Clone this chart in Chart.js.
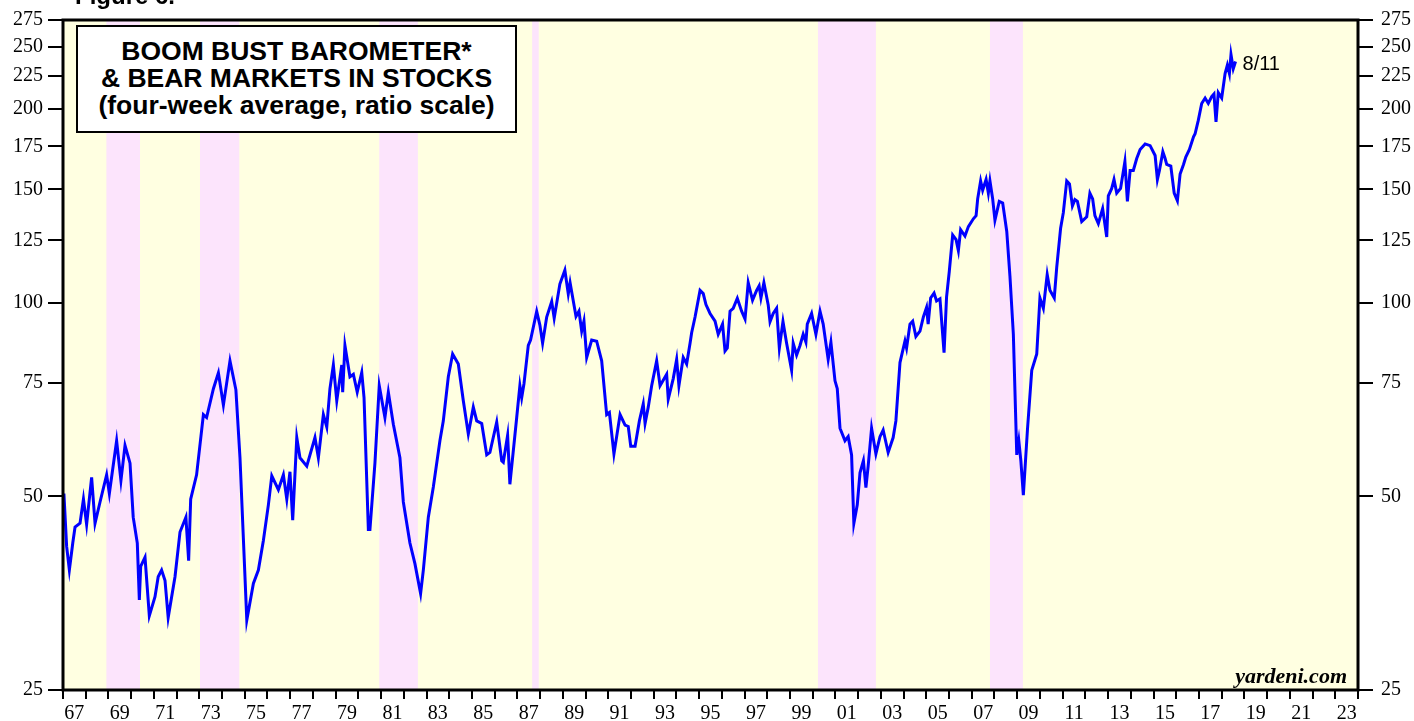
<!DOCTYPE html>
<html>
<head>
<meta charset="utf-8">
<script src="https://cdn.jsdelivr.net/npm/chart.js@4"></script>
<style>
    html, body { margin: 0; padding: 0; background: #fff; }
    #wrap { position: relative; width: 1414px; height: 721px; overflow: hidden; }
    #fig { position: absolute; left: 75px; top: -16px; font: bold 24px "Liberation Sans", Arial, sans-serif; line-height: 24px; }
    #title {
        position: absolute; left: 76px; top: 25px;
        border: 2.5px solid #000; background: #fff; text-align: center;
        font: bold 26.5px "Liberation Sans", Arial, sans-serif; line-height: 27px;
        padding-top: 11px; box-sizing: border-box; width: 441px; height: 108px;
    }
    #src { position: absolute; right: 67px; top: 665px; font: italic bold 22px "Liberation Serif", "Times New Roman", serif; line-height: 22px; }
</style>
</head>
<body>
<div id="wrap">
    <canvas id="bbChart" width="1414" height="721"></canvas>
    <div id="fig">Figure 6.</div>
    <div id="title">BOOM BUST BAROMETER*<br>&amp; BEAR MARKETS IN STOCKS<br>(four-week average, ratio scale)</div>
    <div id="src">yardeni.com</div>
</div>
<script>
// --- Data ---
const years = [
    1967.04, 1967.16, 1967.28, 1967.43, 1967.53, 1967.75, 1967.90, 1968.04, 1968.26, 1968.41,
    1968.63, 1968.92, 1969.04, 1969.36, 1969.55, 1969.73, 1969.95, 1970.09, 1970.27, 1970.36,
    1970.42, 1970.61, 1970.80, 1971.05, 1971.19, 1971.34, 1971.49, 1971.63, 1971.93, 1972.15,
    1972.41, 1972.53, 1972.62, 1972.88, 1973.18, 1973.32, 1973.62, 1973.84, 1974.06, 1974.35,
    1974.61, 1974.79, 1975.09, 1975.38, 1975.60, 1975.82, 1976.04, 1976.19, 1976.48, 1976.70,
    1976.85, 1976.99, 1977.11, 1977.29, 1977.43, 1977.73, 1978.09, 1978.24, 1978.46, 1978.61,
    1978.75, 1978.90, 1979.05, 1979.27, 1979.31, 1979.41, 1979.63, 1979.78, 1979.95, 1980.15,
    1980.25, 1980.44, 1980.51, 1980.73, 1980.92, 1981.17, 1981.32, 1981.54, 1981.83, 1981.98,
    1982.27, 1982.49, 1982.74, 1982.86, 1983.08, 1983.30, 1983.59, 1983.74, 1983.96, 1984.15,
    1984.40, 1984.62, 1984.84, 1985.06, 1985.21, 1985.43, 1985.65, 1985.79, 1986.09, 1986.31,
    1986.38, 1986.57, 1986.67, 1986.97, 1987.11, 1987.19, 1987.29, 1987.48, 1987.58, 1987.85,
    1987.99, 1988.11, 1988.29, 1988.51, 1988.62, 1988.87, 1989.09, 1989.24, 1989.32, 1989.58,
    1989.71, 1989.83, 1989.93, 1990.05, 1990.27, 1990.49, 1990.71, 1990.93, 1991.05, 1991.25,
    1991.52, 1991.74, 1991.88, 1991.99, 1992.18, 1992.37, 1992.54, 1992.62, 1992.76, 1992.91,
    1993.13, 1993.28, 1993.57, 1993.64, 1993.86, 1994.01, 1994.11, 1994.30, 1994.45, 1994.60,
    1994.67, 1994.82, 1995.04, 1995.18, 1995.30, 1995.48, 1995.70, 1995.84, 1996.03, 1996.14,
    1996.24, 1996.36, 1996.50, 1996.68, 1996.87, 1997.02, 1997.16, 1997.35, 1997.53, 1997.64,
    1997.72, 1997.85, 1998.04, 1998.12, 1998.26, 1998.41, 1998.53, 1998.69, 1998.85, 1999.07,
    1999.14, 1999.29, 1999.44, 1999.58, 1999.70, 1999.76, 1999.95, 2000.14, 2000.32, 2000.46,
    2000.68, 2000.80, 2000.98, 2001.08, 2001.20, 2001.42, 2001.56, 2001.71, 2001.81, 2001.96,
    2002.08, 2002.23, 2002.34, 2002.44, 2002.59, 2002.78, 2002.96, 2003.10, 2003.32, 2003.54,
    2003.66, 2003.84, 2004.06, 2004.13, 2004.28, 2004.40, 2004.54, 2004.72, 2004.87, 2005.01,
    2005.08, 2005.19, 2005.34, 2005.45, 2005.60, 2005.78, 2005.89, 2006.01, 2006.16, 2006.31,
    2006.41, 2006.51, 2006.70, 2006.85, 2007.07, 2007.19, 2007.26, 2007.39, 2007.48, 2007.63,
    2007.73, 2007.80, 2007.92, 2008.02, 2008.21, 2008.36, 2008.54, 2008.68, 2008.83, 2008.98,
    2009.07, 2009.16, 2009.27, 2009.45, 2009.64, 2009.86, 2010.00, 2010.15, 2010.32, 2010.44,
    2010.63, 2010.74, 2010.91, 2011.03, 2011.18, 2011.30, 2011.43, 2011.54, 2011.65, 2011.84,
    2012.06, 2012.20, 2012.32, 2012.42, 2012.57, 2012.76, 2012.94, 2013.01, 2013.16, 2013.26,
    2013.38, 2013.55, 2013.74, 2013.85, 2013.97, 2014.11, 2014.26, 2014.41, 2014.63, 2014.85,
    2015.07, 2015.17, 2015.26, 2015.41, 2015.51, 2015.58, 2015.76, 2015.91, 2016.05, 2016.17,
    2016.32, 2016.42, 2016.58, 2016.76, 2016.83, 2016.97, 2017.12, 2017.27, 2017.41, 2017.56,
    2017.66, 2017.75, 2017.85, 2018.00, 2018.15, 2018.25, 2018.34, 2018.41, 2018.51, 2018.61,
];
const boomBust = [
    50.5, 41.8, 38.4, 42.3, 44.8, 45.4, 49.5, 45.2, 53.5, 45.4,
    49.0, 54.0, 50.5, 61.0, 52.9, 60.0, 56.3, 46.4, 42.3, 34.5,
    38.9, 40.2, 32.6, 34.9, 37.5, 38.4, 37.0, 32.4, 37.5, 44.0,
    46.4, 39.7, 49.5, 54.0, 67.0, 66.3, 73.5, 77.8, 69.3, 81.2,
    73.2, 57.4, 32.1, 36.6, 38.4, 42.7, 48.5, 53.8, 51.2, 54.0,
    49.5, 54.6, 45.9, 61.7, 57.4, 55.7, 61.7, 57.4, 67.0, 64.1,
    73.5, 80.0, 70.4, 80.0, 72.6, 85.8, 76.7, 77.4, 72.6, 77.9,
    71.2, 44.4, 44.4, 56.3, 74.3, 66.3, 72.6, 64.7, 57.4, 49.0,
    42.3, 39.3, 35.3, 38.4, 46.4, 51.7, 61.0, 65.5, 76.7, 83.2,
    80.3, 70.4, 62.5, 68.8, 65.5, 64.9, 58.0, 58.5, 65.2, 56.8,
    56.5, 62.2, 52.2, 66.3, 74.3, 71.2, 74.8, 85.8, 87.5, 96.9,
    92.3, 86.5, 95.0, 100.4, 94.6, 106.9, 112.3, 103.2, 107.4, 95.2,
    97.0, 90.3, 93.6, 82.2, 87.5, 87.1, 81.2, 67.0, 67.5, 58.2,
    67.0, 64.5, 64.2, 59.8, 59.8, 65.5, 69.6, 64.9, 68.8, 74.3,
    81.2, 74.3, 77.4, 70.8, 76.2, 81.6, 74.3, 82.2, 80.3, 86.5,
    89.8, 95.0, 104.5, 103.3, 99.3, 96.2, 93.6, 89.3, 92.6, 84.1,
    85.0, 97.0, 98.0, 101.6, 97.0, 94.3, 107.4, 100.9, 104.5, 106.2,
    101.7, 107.4, 99.2, 93.4, 96.2, 98.0, 85.0, 93.5, 86.5, 78.5,
    86.5, 82.9, 85.8, 89.3, 86.8, 92.6, 96.2, 89.3, 97.0, 92.6,
    81.6, 86.8, 75.6, 73.5, 63.8, 61.0, 61.9, 58.0, 45.4, 48.5,
    54.4, 56.8, 51.6, 55.7, 63.8, 58.2, 61.9, 63.4, 58.5, 61.7,
    65.5, 80.7, 87.2, 85.0, 92.6, 93.6, 88.6, 90.3, 95.0, 98.3,
    92.6, 101.7, 103.5, 100.6, 101.4, 83.6, 102.0, 111.8, 127.4, 125.3,
    120.5, 129.8, 126.9, 131.3, 135.0, 136.5, 145.0, 154.6, 149.5, 155.4,
    148.0, 154.6, 145.0, 134.3, 143.7, 142.9, 129.0, 110.0, 89.3, 58.0,
    61.0, 56.8, 50.2, 63.4, 78.5, 83.2, 101.7, 98.0, 110.6, 104.5,
    101.7, 113.6, 130.5, 138.0, 154.6, 153.0, 141.4, 144.6, 143.7, 133.7,
    136.0, 148.0, 145.0, 136.5, 132.7, 140.0, 126.5, 146.6, 150.5, 155.4,
    148.0, 150.5, 165.7, 143.7, 160.5, 160.5, 167.5, 173.0, 176.5, 175.4,
    169.3, 155.4, 160.5, 171.6, 167.5, 164.0, 163.0, 148.0, 144.0, 158.5,
    164.0, 168.4, 173.0, 181.0, 183.0, 192.0, 204.0, 208.0, 204.0, 209.0,
    211.0, 191.0, 212.0, 208.0, 227.0, 234.0, 227.0, 243.0, 231.0, 237.0,
];
const lastLabel = "8/11";

// bear markets in stocks (pink bands)
const bearStart = [1968.91, 1973.03, 1980.92, 1987.65, 2000.23, 2007.80];
const bearEnd = [1970.39, 1974.76, 1982.62, 1987.94, 2002.78, 2009.25];

const yTicks = [25, 50, 75, 100, 125, 150, 175, 200, 225, 250, 275];
const yearTicks = [];
for (let yr = 1967; yr <= 2024; yr++) yearTicks.push(yr);
const yearLabels = yearTicks.filter((yr) => yr % 2 === 1 && yr < 2024).map((yr) => yr + 0.5);

// --- Styles ---
const YELLOW = "#ffffe1";
const PINK = "#fce4fc";
const LINE = "#0000ff";
const SERIF = "'Liberation Serif', 'Times New Roman', serif";

// --- Plugins ---
const backdrop = {
    id: "backdrop",
    beforeDraw(chart) {
        const { ctx, chartArea: a } = chart;
        const x = chart.scales.x;
        ctx.save();
        ctx.fillStyle = YELLOW;
        ctx.fillRect(a.left, a.top, a.right - a.left, a.bottom - a.top);
        ctx.fillStyle = PINK;
        bearStart.forEach((s, i) => {
            const x0 = x.getPixelForValue(s);
            const x1 = x.getPixelForValue(bearEnd[i]);
            ctx.fillRect(x0, a.top, x1 - x0, a.bottom - a.top);
        });
        ctx.restore();
    },
    afterDraw(chart) {
        const { ctx, chartArea: a } = chart;
        ctx.save();
        ctx.strokeStyle = "#000";
        ctx.lineWidth = 3;
        ctx.strokeRect(a.left, a.top, a.right - a.left, a.bottom - a.top);

        const pts = chart.getDatasetMeta(0).data;
        const last = pts[pts.length - 1];
        ctx.fillStyle = "#000";
        ctx.font = "20px 'Liberation Sans', Arial, sans-serif";
        ctx.textBaseline = "middle";
        ctx.textAlign = "left";
        ctx.fillText(lastLabel, last.x + 7, last.y + 3);
        ctx.restore();
    },
};

function setTicks(values) {
    return (scale) => {
        scale.ticks = values.map((v) => ({ value: v }));
    };
}

const yAxis = (pos, w, pad) => ({
    type: "logarithmic",
    position: pos,
    min: 25,
    max: 275,
    bounds: "data",
    afterBuildTicks: setTicks(yTicks),
    afterFit: (s) => { s.width = w; },
    border: { display: false },
    grid: { drawOnChartArea: false, drawTicks: true, tickLength: 15, color: "#000", tickColor: "#000", lineWidth: 2, tickWidth: 2 },
    ticks: { autoSkip: false, padding: pad, color: "#000", font: { family: SERIF, size: 20 }, callback: (v) => String(v) },
});

new Chart(document.getElementById("bbChart"), {
    type: "line",
    data: {
        datasets: [{
            data: years.map((yr, i) => ({ x: yr, y: boomBust[i] })),
            borderColor: LINE,
            borderWidth: 3,
            pointRadius: 0,
            tension: 0,
            xAxisID: "x",
            yAxisID: "y",
        }],
    },
    options: {
        responsive: false,
        animation: false,
        layout: { padding: { top: 18, left: 0, right: 0, bottom: 0 } },
        plugins: { legend: { display: false }, tooltip: { enabled: false } },
        scales: {
            x: {
                type: "linear",
                position: "bottom",
                weight: 0,
                min: 1967,
                max: 2024,
                bounds: "data",
                afterBuildTicks: setTicks(yearTicks),
                afterFit: (s) => { s.height = 9; },
                border: { display: false },
                grid: { drawOnChartArea: false, drawTicks: true, tickLength: 9, color: "#000", tickColor: "#000", lineWidth: 2, tickWidth: 2 },
                ticks: { display: false },
            },
            xLabels: {
                type: "linear",
                position: "bottom",
                weight: 1,
                min: 1967,
                max: 2024,
                bounds: "data",
                afterBuildTicks: setTicks(yearLabels),
                afterFit: (s) => { s.height = 22; },
                border: { display: false },
                grid: { display: false, drawTicks: false },
                ticks: {
                    autoSkip: false,
                    maxRotation: 0,
                    padding: 3,
                    color: "#000",
                    font: { family: SERIF, size: 20 },
                    callback: (v) => String(Math.floor(v) % 100).padStart(2, "0"),
                },
            },
            y: yAxis("left", 63, 5),
            y2: yAxis("right", 56, 8),
        },
    },
    plugins: [backdrop],
});
</script>
</body>
</html>
